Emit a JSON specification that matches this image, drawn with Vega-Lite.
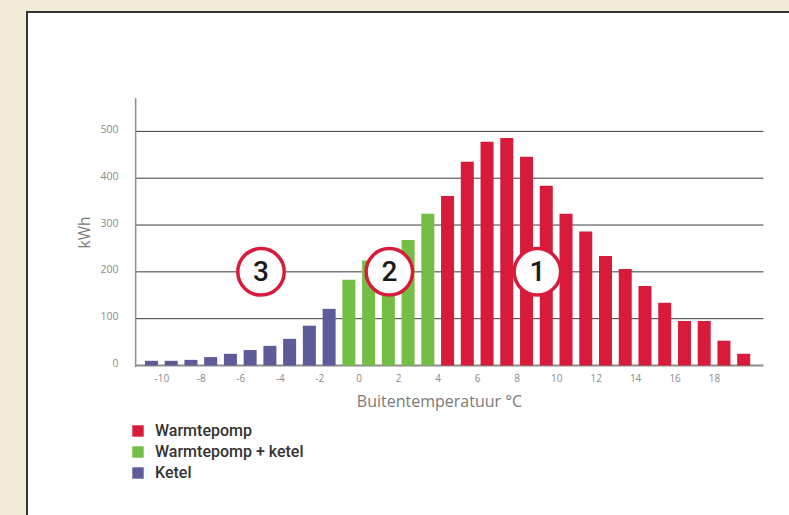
{
  "$schema": "https://vega.github.io/schema/vega-lite/v6.json",
  "width": 775,
  "height": 508,
  "autosize": {"type": "none"},
  "padding": {"left": 27, "top": 12, "right": 0, "bottom": 0},
  "background": "#f3ebd6",
  "config": {
    "view": {"fill": "white", "stroke": "#333333", "strokeWidth": 2},
    "font": "Open Sans"
  },
  "layer": [
    {
      "data": {"values": [{"kwh": 100}, {"kwh": 200}, {"kwh": 300}, {"kwh": 400}, {"kwh": 500}]},
      "mark": {"type": "rule", "color": "#3a3a3a", "strokeWidth": 1},
      "encoding": {
        "x": {
          "datum": -11.3, "type": "quantitative",
          "scale": {"domain": [-16.55, 22.2], "nice": false, "zero": false},
          "axis": {
            "values": [-10, -8, -6, -4, -2, 0, 2, 4, 6, 8, 10, 12, 14, 16, 18],
            "labelExpr": "'' + datum.value", "offset": -154.5, "domain": false, "ticks": false, "grid": false,
            "labelPadding": 8, "labelFontSize": 10, "labelColor": "#8a8a8a",
            "title": "Buitentemperatuur °C", "titleFontSize": 16, "titleColor": "#7a7a7a",
            "titleFontWeight": "normal", "titleX": 412, "titleY": 36, "titleBaseline": "middle"
          }
        },
        "x2": {"datum": 20.5},
        "y": {
          "field": "kwh", "type": "quantitative",
          "scale": {"domain": [-330, 755], "nice": false, "zero": false},
          "axis": {
            "values": [0, 100, 200, 300, 400, 500],
            "offset": -105, "domain": false, "ticks": false, "grid": false,
            "labelPadding": 14, "labelFontSize": 10.5, "labelColor": "#8a8a8a",
            "labelBaseline": "alphabetic", "labelOffset": 1,
            "title": "kWh", "titleFontSize": 15.5, "titleColor": "#7a7a7a", "titleFontWeight": "normal",
            "titleX": -48, "titleY": 220, "titleBaseline": "middle", "titleAngle": -90
          }
        }
      }
    },
    {
      "data": {"values": [{"kwh": 0}]},
      "mark": {"type": "rule", "color": "#8c8c8c", "strokeWidth": 2},
      "encoding": {
        "x": {"datum": -11.3, "type": "quantitative", "scale": {"domain": [-16.55, 22.2], "nice": false, "zero": false}},
        "x2": {"datum": 20.5},
        "y": {"field": "kwh", "type": "quantitative", "scale": {"domain": [-330, 755], "nice": false, "zero": false}}
      }
    },
    {
      "data": {"values": [{"temp": -11.3}]},
      "mark": {"type": "rule", "color": "#8c8c8c", "strokeWidth": 1.5},
      "encoding": {
        "x": {"field": "temp", "type": "quantitative", "scale": {"domain": [-16.55, 22.2], "nice": false, "zero": false}},
        "y": {"datum": -3, "type": "quantitative", "scale": {"domain": [-330, 755], "nice": false, "zero": false}},
        "y2": {"datum": 571}
      }
    },
    {
      "data": {
        "values": [
          {"temp": -10.5, "kwh": 10, "type": "Ketel"},
          {"temp": -9.5, "kwh": 10, "type": "Ketel"},
          {"temp": -8.5, "kwh": 12, "type": "Ketel"},
          {"temp": -7.5, "kwh": 18, "type": "Ketel"},
          {"temp": -6.5, "kwh": 25, "type": "Ketel"},
          {"temp": -5.5, "kwh": 33, "type": "Ketel"},
          {"temp": -4.5, "kwh": 42, "type": "Ketel"},
          {"temp": -3.5, "kwh": 57, "type": "Ketel"},
          {"temp": -2.5, "kwh": 85, "type": "Ketel"},
          {"temp": -1.5, "kwh": 121, "type": "Ketel"},
          {"temp": -0.5, "kwh": 183, "type": "Warmtepomp + ketel"},
          {"temp": 0.5, "kwh": 224, "type": "Warmtepomp + ketel"},
          {"temp": 1.5, "kwh": 245, "type": "Warmtepomp + ketel"},
          {"temp": 2.5, "kwh": 268, "type": "Warmtepomp + ketel"},
          {"temp": 3.5, "kwh": 324, "type": "Warmtepomp + ketel"},
          {"temp": 4.5, "kwh": 362, "type": "Warmtepomp"},
          {"temp": 5.5, "kwh": 435, "type": "Warmtepomp"},
          {"temp": 6.5, "kwh": 478, "type": "Warmtepomp"},
          {"temp": 7.5, "kwh": 486, "type": "Warmtepomp"},
          {"temp": 8.5, "kwh": 446, "type": "Warmtepomp"},
          {"temp": 9.5, "kwh": 384, "type": "Warmtepomp"},
          {"temp": 10.5, "kwh": 324, "type": "Warmtepomp"},
          {"temp": 11.5, "kwh": 286, "type": "Warmtepomp"},
          {"temp": 12.5, "kwh": 234, "type": "Warmtepomp"},
          {"temp": 13.5, "kwh": 206, "type": "Warmtepomp"},
          {"temp": 14.5, "kwh": 170, "type": "Warmtepomp"},
          {"temp": 15.5, "kwh": 134, "type": "Warmtepomp"},
          {"temp": 16.5, "kwh": 95, "type": "Warmtepomp"},
          {"temp": 17.5, "kwh": 95, "type": "Warmtepomp"},
          {"temp": 18.5, "kwh": 53, "type": "Warmtepomp"},
          {"temp": 19.5, "kwh": 25, "type": "Warmtepomp"}
        ]
      },
      "mark": {"type": "bar", "width": 13},
      "encoding": {
        "x": {"field": "temp", "type": "quantitative", "scale": {"domain": [-16.55, 22.2], "nice": false, "zero": false}},
        "y": {"field": "kwh", "type": "quantitative", "scale": {"domain": [-330, 755], "nice": false, "zero": false}},
        "color": {
          "field": "type", "type": "nominal",
          "scale": {"domain": ["Warmtepomp", "Warmtepomp + ketel", "Ketel"], "range": ["#d81b3b", "#73bf45", "#5e5b99"]},
          "legend": {
            "orient": "none", "legendX": 103, "legendY": 411, "title": null,
            "symbolType": "square", "symbolSize": 130, "symbolStrokeWidth": 0,
            "labelFont": "Roboto", "labelFontSize": 16, "labelColor": "#333333", "labelFontWeight": 500,
            "labelOffset": 9, "rowPadding": 5
          }
        }
      }
    },
    {
      "data": {"values": [{"temp": -4.95, "kwh": 200, "label": "3"}, {"temp": 1.55, "kwh": 200, "label": "2"}, {"temp": 9.05, "kwh": 200, "label": "1"}]},
      "layer": [
        {
          "mark": {"type": "point", "shape": "circle", "filled": true, "fill": "white", "stroke": "#d81b3b", "strokeWidth": 3.5, "size": 2160, "opacity": 1}
        },
        {
          "mark": {"type": "text", "font": "Roboto", "fontSize": 28, "color": "#1a1a1a", "fontWeight": 500, "baseline": "middle", "align": "center", "dy": 1},
          "encoding": {"text": {"field": "label"}}
        }
      ],
      "encoding": {
        "x": {"field": "temp", "type": "quantitative", "scale": {"domain": [-16.55, 22.2], "nice": false, "zero": false}},
        "y": {"field": "kwh", "type": "quantitative", "scale": {"domain": [-330, 755], "nice": false, "zero": false}}
      }
    }
  ]
}
